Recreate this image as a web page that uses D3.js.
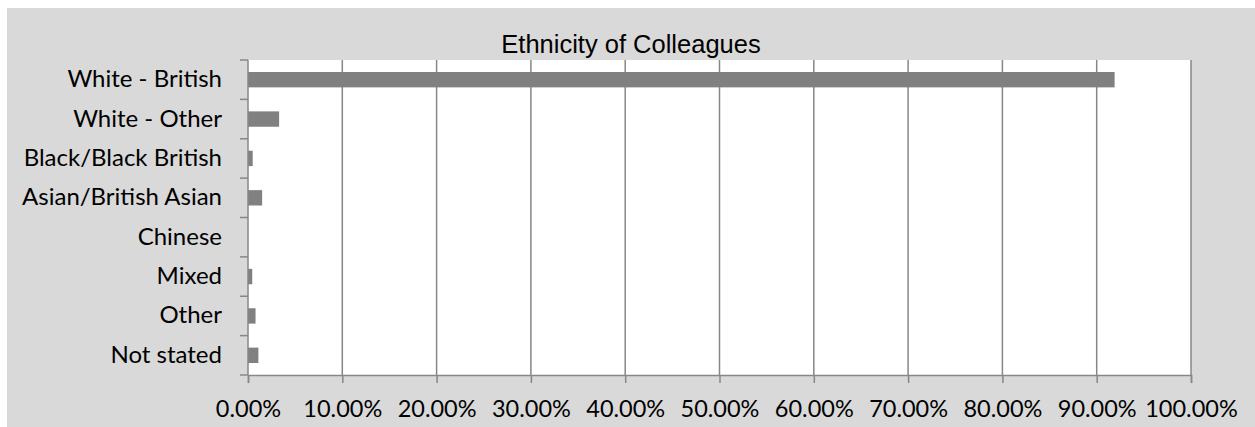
<!DOCTYPE html>
<html>
<head>
<meta charset="utf-8">
<script src="https://cdn.jsdelivr.net/npm/d3@7"></script>
<style>
  body { margin: 0; background: #ffffff; }
  svg text { fill: #000; }
</style>
</head>
<body>
<figure id="bar" style="margin:0"></figure>
<script>
// chart values
const categories = ["White - British", "White - Other", "Black/Black British", "Asian/British Asian",
  "Chinese", "Mixed", "Other", "Not stated"];
const shares = [0.919, 0.033, 0.005, 0.015, 0, 0.0045, 0.008, 0.011];
const xTicks = [0, 0.1, 0.2, 0.3, 0.4, 0.5, 0.6, 0.7, 0.8, 0.9, 1.0];
const title = "Ethnicity of Colleagues";

const width = 1255, height = 427;
const margin = { top: 60, right: 64, bottom: 52, left: 248 };

const svg = d3.select("figure#bar")
  .append("svg")
  .attr("width", width)
  .attr("height", height);

// chart area background
svg.append("rect")
  .attr("x", 7).attr("y", 8)
  .attr("width", width - 7).attr("height", height - 8)
  .attr("fill", "#d9d9d9");

const plotW = width - margin.left - margin.right;
const plotH = height - margin.top - margin.bottom;

const g = svg.append("g")
  .attr("transform", `translate(${margin.left},${margin.top})`);

g.append("rect")
  .attr("width", plotW).attr("height", plotH)
  .attr("fill", "#ffffff");

const x = d3.scaleLinear().domain([0, 1]).range([0, plotW]);
const y = d3.scaleBand().domain(categories).range([0, plotH]).paddingInner(0.61).paddingOuter(0.305);
const yEdge = d3.scaleLinear().domain([0, categories.length]).range([0, plotH]);

// vertical gridlines
g.selectAll("line.grid")
  .data(xTicks.slice(1))
  .enter()
  .append("line")
  .attr("class", "grid")
  .attr("x1", d => x(d)).attr("x2", d => x(d))
  .attr("y1", 0).attr("y2", plotH)
  .attr("stroke", "#878787")
  .attr("stroke-width", 1.5);

// bars
g.selectAll("rect.bar")
  .data(shares)
  .enter()
  .append("rect")
  .attr("class", "bar")
  .attr("x", 0)
  .attr("y", (d, i) => y(categories[i]))
  .attr("width", d => x(d))
  .attr("height", y.bandwidth())
  .attr("fill", "#808080");

// bottom axis
const xAxis = g.append("g")
  .attr("transform", `translate(0,${plotH})`)
  .call(d3.axisBottom(x).tickValues(xTicks).tickFormat(d3.format(".2%")).tickSize(8).tickPadding(17));
xAxis.select(".domain").attr("stroke", "#878787").attr("stroke-width", 1.5);
xAxis.selectAll(".tick line").attr("stroke", "#878787").attr("stroke-width", 1.5);
xAxis.selectAll(".tick text")
  .style("font-family", "Lato, 'Open Sans', sans-serif")
  .style("font-size", "23.5px")
  .attr("fill", "#000");

// left axis: ticks sit between categories
const yAxis = g.append("g");
yAxis.append("line")
  .attr("y1", 0).attr("y2", plotH)
  .attr("stroke", "#878787").attr("stroke-width", 1.5);
yAxis.selectAll("line.tick")
  .data(d3.range(categories.length + 1))
  .enter()
  .append("line")
  .attr("class", "tick")
  .attr("x1", -8).attr("x2", 0)
  .attr("y1", d => yEdge(d)).attr("y2", d => yEdge(d))
  .attr("stroke", "#878787").attr("stroke-width", 1.5);
yAxis.selectAll("text")
  .data(categories)
  .enter()
  .append("text")
  .attr("x", -26)
  .attr("y", d => y(d) + y.bandwidth() / 2)
  .attr("dy", "0.31em")
  .style("text-anchor", "end")
  .style("font-family", "Lato, 'Open Sans', sans-serif")
  .style("font-size", "24px")
  .text(d => d);

svg.append("text")
  .attr("x", (7 + width) / 2)
  .attr("y", 53)
  .style("text-anchor", "middle")
  .style("font-family", "'Liberation Sans', Arial, sans-serif")
  .style("font-size", "25.5px")
  .text(title);
</script>
</body>
</html>
